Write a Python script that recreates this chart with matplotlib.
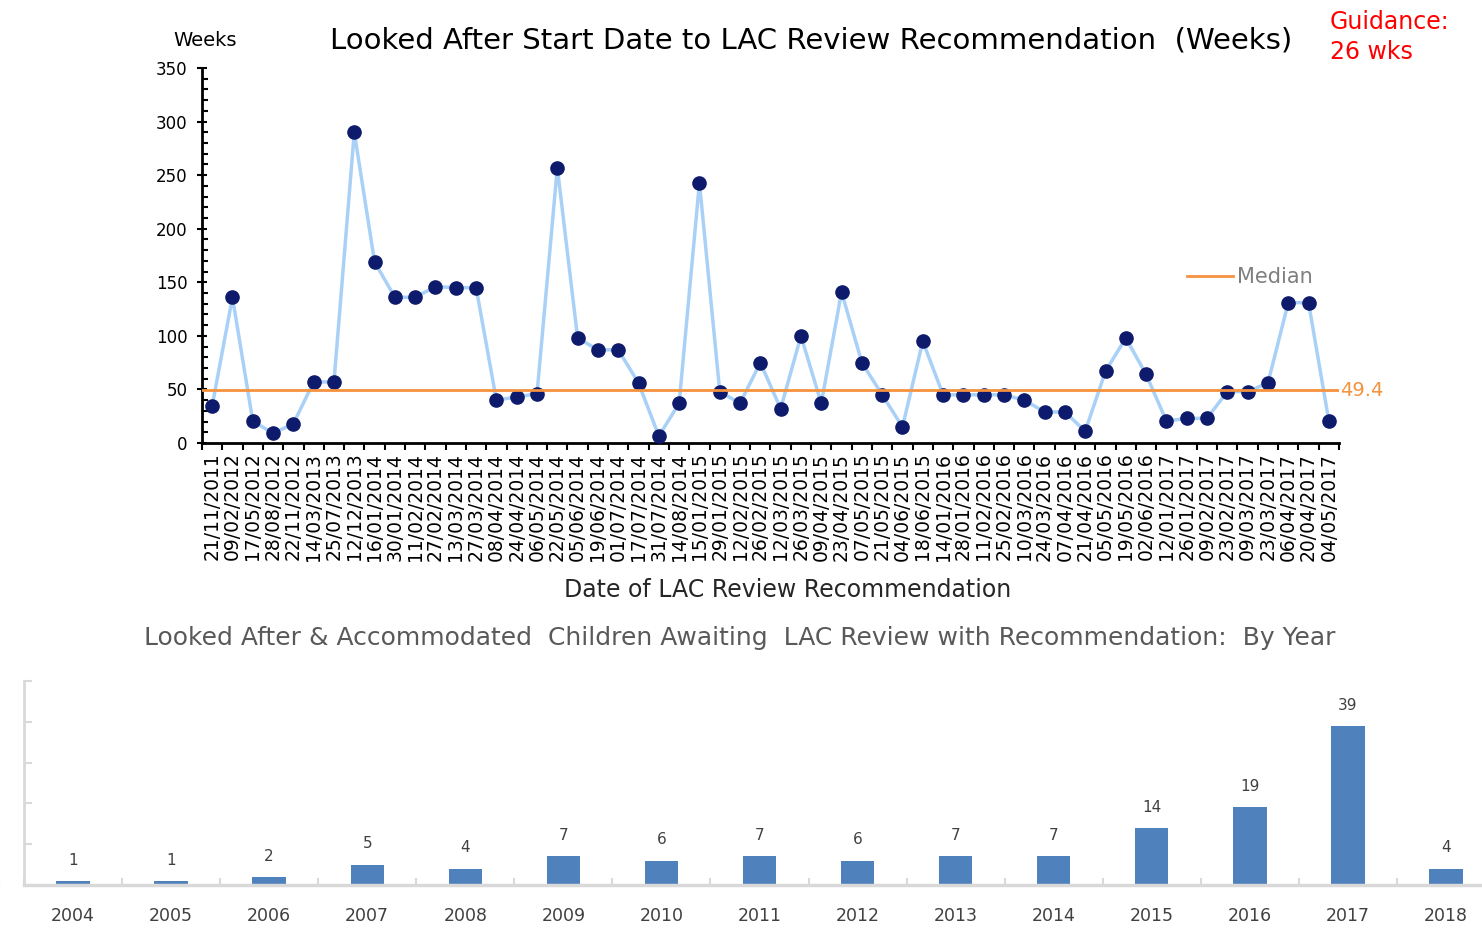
import matplotlib
matplotlib.use("Agg")
import matplotlib.pyplot as plt
from matplotlib.ticker import MultipleLocator, FixedLocator

# review dates (x axis of the top chart)
review_dates = [
    "21/11/2011",
    "09/02/2012", "17/05/2012", "28/08/2012", "22/11/2012",
    "14/03/2013", "25/07/2013", "12/12/2013",
    "16/01/2014", "30/01/2014", "11/02/2014", "27/02/2014", "13/03/2014",
    "27/03/2014", "08/04/2014", "24/04/2014", "06/05/2014", "22/05/2014",
    "05/06/2014", "19/06/2014", "01/07/2014", "17/07/2014", "31/07/2014",
    "14/08/2014",
    "15/01/2015", "29/01/2015", "12/02/2015", "26/02/2015", "12/03/2015",
    "26/03/2015", "09/04/2015", "23/04/2015", "07/05/2015", "21/05/2015",
    "04/06/2015", "18/06/2015",
    "14/01/2016", "28/01/2016", "11/02/2016", "25/02/2016", "10/03/2016",
    "24/03/2016", "07/04/2016", "21/04/2016", "05/05/2016", "19/05/2016",
    "02/06/2016",
    "12/01/2017", "26/01/2017", "09/02/2017", "23/02/2017", "09/03/2017",
    "23/03/2017", "06/04/2017", "20/04/2017", "04/05/2017",
]

weeks = [
    34.5, 136, 20.5, 9, 18, 57, 57, 290, 169, 136, 136, 146, 145, 145,
    40, 43, 46, 257, 98, 87, 87, 56, 6.5, 37, 243, 48, 37, 75, 32, 100,
    37, 141, 75, 45, 15, 95, 45, 45, 45, 45, 40, 29, 29, 11, 67, 98, 64,
    20.5, 23, 23, 48, 48, 56, 131, 131, 20.5,
]

median_weeks = 49.4

# bottom chart
years = ["2004", "2005", "2006", "2007", "2008", "2009", "2010", "2011",
         "2012", "2013", "2014", "2015", "2016", "2017", "2018"]
children = [1, 1, 2, 5, 4, 7, 6, 7, 6, 7, 7, 14, 19, 39, 4]

W, H = 1482, 934


def main():
    plt.rcParams['font.family'] = ['DejaVu Sans']
    fig = plt.figure(figsize=(W / 100, H / 100), dpi=100)

    # ---- top: weeks per review ----
    ax = fig.add_axes([202 / W, 1 - 443 / H, 1137 / W, 375 / H])
    x = list(range(len(weeks)))
    ax.plot(x, weeks, color='#a9d1f7', lw=2.5, zorder=2)
    ax.plot(x, weeks, ls='none', marker='o', ms=9.5, color='#0e1a6b', zorder=3)
    ax.plot([-0.5, len(weeks) - 0.5], [median_weeks, median_weeks],
            color='#f5923e', lw=2, zorder=4, label='Median')

    ax.set_xlim(-0.5, len(weeks) - 0.5)
    ax.set_ylim(0, 350)
    ax.yaxis.set_major_locator(MultipleLocator(50))
    ax.yaxis.set_minor_locator(MultipleLocator(10))
    ax.tick_params(axis='y', which='major', direction='inout', length=7,
                   width=1.5, labelsize=12, pad=7, colors='black')
    ax.tick_params(axis='y', which='minor', direction='in', length=4, width=1.5)
    ax.set_xticks(x)
    ax.set_xticklabels(review_dates, rotation=90, fontsize=13.5)
    ax.tick_params(axis='x', which='major', length=0, pad=7)
    ax.xaxis.set_minor_locator(FixedLocator([i - 0.5 for i in range(len(weeks) + 1)]))
    ax.tick_params(axis='x', which='minor', direction='out', length=5, width=1.5)
    for s in ['top', 'right']:
        ax.spines[s].set_visible(False)
    ax.spines['left'].set_linewidth(2)
    ax.spines['bottom'].set_linewidth(2)

    ax.text(len(weeks) - 0.45, median_weeks, '49.4', color='#f5923e',
            fontsize=14, va='center', ha='left', clip_on=False)
    leg = ax.legend(loc='center left', bbox_to_anchor=(1168 / W, 1 - 277 / H),
                    bbox_transform=fig.transFigure, frameon=False,
                    handlelength=2.2, handletextpad=0.2, fontsize=15)
    for t in leg.get_texts():
        t.set_color('#7f7f7f')

    fig.text(205 / W, 1 - 41 / H, 'Weeks', fontsize=14, ha='center', va='center')
    fig.text(811 / W, 1 - 40 / H,
             'Looked After Start Date to LAC Review Recommendation  (Weeks)',
             fontsize=21, ha='center', va='center')
    fig.text(1330 / W, 1 - 22 / H, 'Guidance:', color='#ff0000', fontsize=17,
             ha='left', va='center')
    fig.text(1330 / W, 1 - 52 / H, '26 wks', color='#ff0000', fontsize=17,
             ha='left', va='center')
    fig.text(788 / W, 1 - 590 / H, 'Date of LAC Review Recommendation',
             fontsize=17, ha='center', va='center', color='#262626')

    # ---- bottom: children by year ----
    bx = fig.add_axes([24 / W, 1 - 885 / H, 1471 / W, 204 / H])
    xb = list(range(len(years)))
    bx.bar(xb, children, width=0.34, color='#4f81bd', zorder=2)
    for xi, v in zip(xb, children):
        bx.annotate(str(v), (xi, v), xytext=(0, 15), textcoords='offset points',
                    ha='center', va='center', fontsize=11, color='#404040')
    bx.set_xlim(-0.5, len(years) - 0.5)
    bx.set_ylim(0, 50)
    bx.yaxis.set_major_locator(MultipleLocator(10))
    bx.tick_params(axis='y', direction='in', length=6, width=1.5,
                   colors='#d9d9d9', labelcolor='#8fc8f5', labelsize=9, pad=17)
    bx.set_xticks(xb)
    bx.set_xticklabels(years, fontsize=12.5, color='#404040')
    bx.tick_params(axis='x', which='major', length=0, pad=16)
    bx.xaxis.set_minor_locator(FixedLocator([i - 0.5 for i in range(len(years) + 1)]))
    bx.tick_params(axis='x', which='minor', direction='in', length=5, width=1.5,
                   colors='#d9d9d9')
    for s in ['top', 'right']:
        bx.spines[s].set_visible(False)
    bx.spines['left'].set_color('#d9d9d9')
    bx.spines['bottom'].set_color('#d9d9d9')
    bx.spines['left'].set_linewidth(2)
    bx.spines['bottom'].set_linewidth(2.5)

    fig.text(740 / W, 1 - 638 / H,
             'Looked After & Accommodated  Children Awaiting  LAC Review with Recommendation:  By Year',
             fontsize=18, ha='center', va='center', color='#595959')

    fig.savefig('out.png', dpi=100)


if __name__ == '__main__':
    main()
